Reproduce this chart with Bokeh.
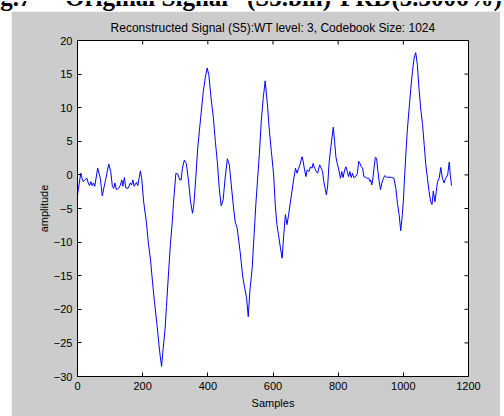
from bokeh.plotting import figure
from bokeh.models import Range1d, FixedTicker, Div, Spacer
from bokeh.layouts import column, row
from bokeh.embed import file_html
from bokeh.resources import INLINE
import math

samples = [0, 10, 14, 18, 23, 29, 33, 37, 41, 45, 49, 53, 62, 70, 76, 85, 96, 102, 107, 111,
           115, 119, 126, 131, 136, 139, 144, 148, 155, 162, 166, 170, 174, 181, 185, 189, 193, 197,
           203, 211, 218, 224, 230, 236, 244, 250, 254, 258, 263, 269, 273, 279, 285, 291, 295,
           302, 308, 314, 318, 322, 328, 334, 341, 347, 353, 357, 363, 369, 378, 386, 392, 398,
           403, 410, 417, 423, 429, 435, 441, 447, 453, 460, 466, 472, 478, 484, 490, 499, 507,
           513, 519, 524, 529, 536, 542, 548, 558, 564, 570, 576, 583, 589, 595, 602, 607, 612,
           617, 622, 628, 633, 638, 643, 648, 653, 658, 664, 669, 674, 679, 684, 689, 692, 696,
           701, 705, 710, 715, 720, 723, 728, 733, 737, 743, 748, 752, 756, 760, 764, 768, 772,
           776, 781, 785, 789, 793, 797, 802, 807, 811, 815, 820, 824, 828, 832, 836, 840, 844,
           848, 854, 859, 863, 867, 871, 875, 879, 884, 889, 894, 898, 900, 903, 906, 910, 914,
           918, 922, 926, 930, 934, 939, 943, 949, 956, 963, 971, 977, 982, 987, 992, 997, 1000,
           1002, 1007, 1012, 1018, 1023, 1028, 1033, 1038, 1043, 1048, 1053, 1059, 1064, 1069,
           1074, 1079, 1084, 1088, 1092, 1097, 1101, 1105, 1110, 1115, 1120, 1125, 1130, 1136,
           1141, 1144, 1148]
amplitude = [-3.0, 0.25, -0.5, -1.0, -0.7, -0.5, -1.2, -1.6, -1.0, -1.6, -1.2, -1.7, 1.0, -0.5,
             -3.1, -1.0, 1.6, 0.5, -1.7, -2.0, -1.2, -2.2, -2.0, -1.6, -0.75, -1.7, -0.4, -1.9,
             -2.0, -1.2, -1.5, -0.75, -1.7, -1.1, -1.6, -0.5, 0.6, -0.5,
             -4.0, -6.9, -10.4, -12.6, -15.8, -18.8, -22.3, -25.3, -27.0, -28.5, -25.8, -22.8,
             -19.6, -14.9, -10.4, -6.9, -3.9,
             0.25, 0.1, -0.75, -0.75, 1.0, 2.2, 1.7, -1.0, -4.0, -5.7, -4.5, -0.5, 4.0, 8.5, 12.4,
             14.4, 15.9, 14.9, 11.4, 8.5, 5.0, 2.0, -2.0, -4.6, -3.7, -0.5, 2.4, 1.5, -1.5, -4.5,
             -7.0, -7.9, -11.4, -15.1, -16.8, -18.3, -21.1, -17.3, -13.9, -8.9, -3.9, 3.0, 8.0,
             11.4, 14.0, 10.4, 6.5, 3.5, 0.0, -4.5, -7.4, -8.9, -10.6, -12.4, -8.9, -5.9, -7.4,
             -5.9, -4.2, -2.5, -0.5, 1.0, 0.25, 1.0, 1.7, 2.7, 2.2, 1.0, -0.25, 0.75, 0.5, 1.2,
             1.0, 1.7, 1.0, 0.5, 0.25, 1.5, 1.0, 0.5, -1.0, -2.0, -3.0, -1.5, 1.7, 3.5, 5.5, 7.1,
             5.0, 2.7, 1.7, 0.75, -0.5, 0.5, -0.4, 0.75, 1.2, 0.5, -0.25, 0.5, -0.4, 0.25, -0.4,
             -0.25, 0.25, 2.0, 1.7, 1.2, 1.0, -0.25, -0.35, -0.5, -0.5, -1.0, -0.75, -1.5, -0.75,
             1.0, 2.6, 2.5, 0.5, -1.0, -2.2, -1.2, -0.5, -0.1, -0.35, -0.35, -0.35, -0.5, -2.0,
             -4.2, -5.9, -8.3, -5.9, -3.9, -2.0, 2.5, 6.5, 10.0, 12.9, 15.4, 17.4, 18.2, 16.4,
             12.9, 10.0, 7.5, 4.5, 1.5, -0.5, -2.5, -4.0, -4.4, -2.4, -4.0, -2.5, -1.0, -0.5, 1.1,
             -0.5, -1.2, -0.5, 0.0, 1.9, 0.0, -1.6]

x_ticks = [0, 200, 400, 600, 800, 1000, 1200]
y_ticks = [-30, -25, -20, -15, -10, -5, 0, 5, 10, 15, 20]
x_limits = (0, 1200)
y_limits = (-30, 20)

title_text = "Reconstructed Signal (S5):WT level: 3, Codebook Size: 1024"
x_label = "Samples"
y_label = "amplitude"
caption_parts = [("Fig.7", -22), ("Original Signal", 65), ("(S5.bin)", 247), ("PRD(5.3006%)", 340)]

FONT = "Liberation Sans"
GRAY = "#cccccc"

p = figure(width=489, height=405, output_backend="svg", toolbar_location=None,
           x_range=Range1d(*x_limits), y_range=Range1d(*y_limits),
           min_border_left=66, min_border_right=32, min_border_top=29, min_border_bottom=40,
           background_fill_color="white", border_fill_color=GRAY,
           outline_line_color="black", outline_line_width=1, outline_line_alpha=1)
p.grid.visible = False

p.title.text = title_text
p.title.text_font = FONT
p.title.text_font_size = "12px"
p.title.text_font_style = "normal"
p.title.text_color = "black"
p.title.align = "center"
p.title.standoff = 11

def style_axis(ax, ticks):
    ax.ticker = FixedTicker(ticks=ticks)
    ax.minor_tick_line_color = None
    ax.major_tick_in = 4
    ax.major_tick_out = 0
    ax.major_tick_line_color = "black"
    ax.axis_line_color = "black"
    ax.major_label_text_font = FONT
    ax.major_label_text_font_size = "11px"
    ax.major_label_text_color = "black"
    ax.major_label_standoff = 5
    ax.axis_label_text_font = FONT
    ax.axis_label_text_font_size = "11px"
    ax.axis_label_text_font_style = "normal"
    ax.axis_label_text_color = "black"
    ax.axis_label_standoff = 4

style_axis(p.xaxis[0], x_ticks)
style_axis(p.yaxis[0], y_ticks)
p.yaxis[0].axis_label_standoff = 1
p.xaxis[0].axis_label = x_label
p.yaxis[0].axis_label = y_label

# inward tick marks on the top and right edges of the box (half of each dash is clipped by the frame)
p.scatter(x_ticks, [y_limits[1]] * len(x_ticks), marker="dash", size=8, angle=math.pi / 2,
          line_color="black", line_width=1)
p.scatter([x_limits[1]] * len(y_ticks), y_ticks, marker="dash", size=8,
          line_color="black", line_width=1)

p.line(samples, amplitude, line_color="#0000ff", line_width=1)

spans = "".join(
    f'<span style="position:absolute; left:{left}px; top:-16px; line-height:25px; '
    f'font-family:\'Liberation Serif\'; font-weight:bold; font-size:25px; white-space:nowrap; '
    f'color:black;">{txt}</span>'
    for txt, left in caption_parts)
caption = Div(text=f'<div style="position:relative; width:504px; height:11px; overflow:hidden; '
                   f'background:white;">{spans}</div>',
              width=504, height=11, styles={"overflow": "hidden", "margin": "0", "padding": "0"})

layout = column(caption, row(Spacer(width=11, height=405), p), spacing=0)

open("out.html", "w").write(file_html(layout, INLINE))
